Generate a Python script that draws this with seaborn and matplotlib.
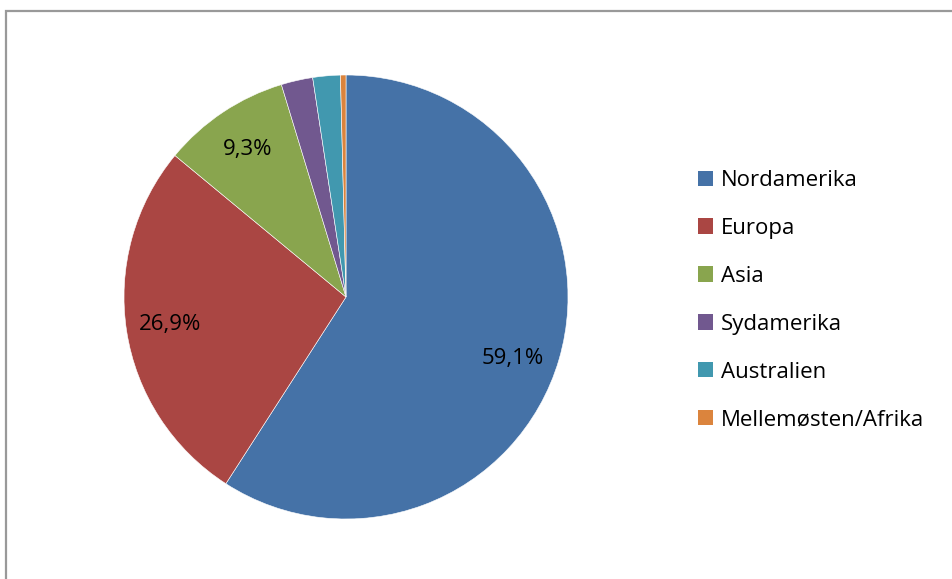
"""Kagediagram: fordeling pr. region."""
import numpy as np
import matplotlib
matplotlib.use("Agg")
import matplotlib.pyplot as plt
import matplotlib.patches as mpatches
import seaborn as sns

regioner = ["Nordamerika", "Europa", "Asia", "Sydamerika", "Australien",
            "Mellemøsten/Afrika"]
andele = [59.1, 26.9, 9.3, 2.3, 2.0, 0.4]
farver = ["#4572A7", "#AA4643", "#89A54E", "#71588F", "#4198AF", "#DB843D"]

sns.set_theme(style="white")
plt.rcParams["font.family"] = ["Open Sans", "DejaVu Sans"]
plt.rcParams["text.color"] = "black"

W, H = 952, 579
fig = plt.figure(figsize=(W / 100, H / 100), dpi=100)
fig.patch.set_facecolor("white")

# pie centred at (346, 297) px, radius 222 px
cx, cy, r = 346, 297, 222
ax = fig.add_axes([(cx - r) / W, (H - cy - r) / H, 2 * r / W, 2 * r / H])


def etiket(p):
    # kun de tre største andele får en etiket
    return f"{p:.1f}%".replace(".", ",") if p > 5 else ""


wedges, _, autotexts = ax.pie(
    andele,
    colors=sns.color_palette(farver),
    startangle=90,
    counterclock=False,
    radius=1,
    autopct=etiket,
    pctdistance=0.8,
    wedgeprops={"edgecolor": "white", "linewidth": 0.4},
    textprops={"fontsize": 16, "color": "black"},
)

# Excel flytter etiketten for den største skive lidt nedad
x0, y0 = autotexts[0].get_position()
vinkel = np.arctan2(y0, x0) - np.deg2rad(4)
autotexts[0].set_position((0.8 * np.cos(vinkel), 0.8 * np.sin(vinkel)))

ax.set_xlim(-1, 1)
ax.set_ylim(-1, 1)
ax.set_aspect("equal")
ax.axis("off")

handles = [mpatches.Patch(facecolor=c, edgecolor="none") for c in farver]
fig.legend(
    handles, regioner,
    loc="upper left",
    bbox_to_anchor=(698 / W, 1 - 170 / H),
    frameon=False,
    fontsize=16,
    handlelength=0.68,
    handleheight=0.68,
    handletextpad=0.36,
    labelspacing=1.21,
    borderpad=0,
    borderaxespad=0,
    labelcolor="black",
)

# grå ramme om diagramområdet
fig.add_artist(mpatches.Rectangle(
    (6 / W, -0.05), 1.1, 1 - 11 / H + 0.05,
    transform=fig.transFigure, fill=False,
    edgecolor="#999999", linewidth=1.6,
))

fig.savefig("out.png", dpi=100)
plt.close(fig)
